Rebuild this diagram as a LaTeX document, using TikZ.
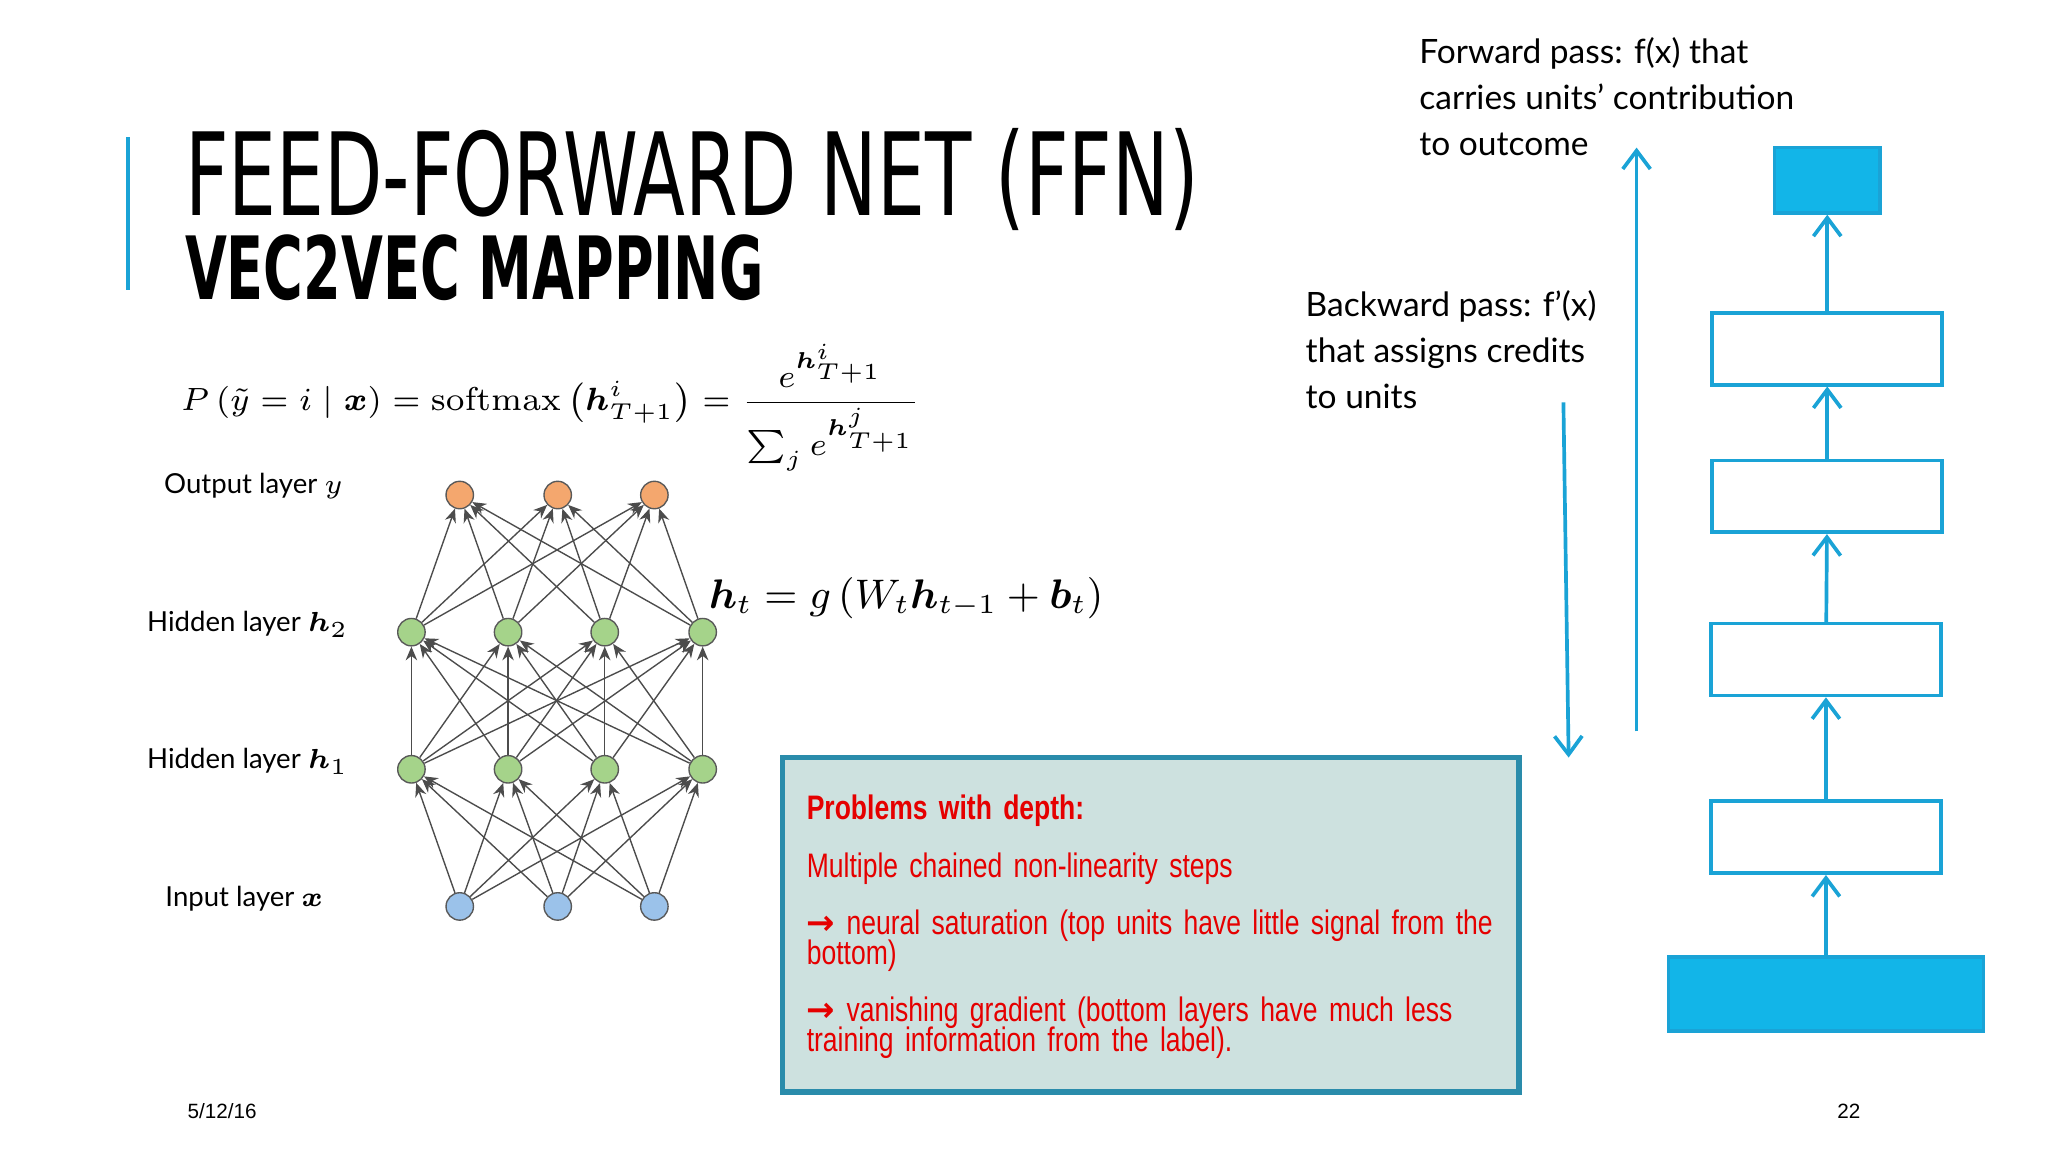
\documentclass[tikz,border=0pt]{standalone}
\usepackage{amsmath}
\usepackage{fontspec}
\setmainfont{Lato}
\newfontfamily\titlefont[FakeStretch=0.66]{DejaVu Sans}
\newfontfamily\subfont[FakeStretch=0.62]{DejaVu Sans}
\newfontfamily\condfont[FakeStretch=0.78]{Liberation Sans}
\newfontfamily\footfont{Liberation Sans}
\newfontfamily\arrfont{DejaVu Sans}
\newfontfamily\lmr{Latin Modern Roman}
\usetikzlibrary{arrows.meta}
\definecolor{cy}{HTML}{12B5E8}
\definecolor{cyl}{HTML}{1AA3D6}
\definecolor{boxfill}{HTML}{CDE1DF}
\definecolor{boxline}{HTML}{2A8CAB}
\definecolor{orn}{HTML}{F4A76E}
\definecolor{grn}{HTML}{A5D38A}
\definecolor{blu}{HTML}{9BC2EA}
\begin{document}
\begin{tikzpicture}[x=0.01cm,y=-0.01cm,
  neuron/.style={circle,draw=gray!70!black,line width=0.3pt,minimum size=0.21cm,inner sep=0},
  edge/.style={gray!60!black,line width=0.3pt,-{Stealth[length=3pt,width=2.5pt]}},
  layerbox/.style={draw=cyl,line width=0.8pt,minimum width=1.76cm,minimum height=0.55cm,inner sep=0},
  filledbox/.style={layerbox,fill=cy},
  uparr/.style={cyl,line width=0.8pt,-{Straight Barb[length=4pt,width=6pt]}},
  lbl/.style={anchor=west,font=\fontsize{6}{7}\selectfont,inner sep=0},
  side/.style={anchor=north west,align=left,font=\fontsize{7.3}{10}\selectfont,inner sep=0},
  red/.style={text=red!90!black}]
\useasboundingbox (0,0) rectangle (1568,882);
\fill[white] (0,0) rectangle (1568,882);
% title
\draw[cyl,line width=1pt] (98,105) -- (98,222);
\node[anchor=base west,inner sep=0,font=\titlefont\fontsize{25}{25}\selectfont] (t1) at (141,165) {FEED-FORWARD NET (FFN)};
\node[anchor=base west,inner sep=0,font=\subfont\bfseries\fontsize{19}{19}\selectfont] (t2) at (141,229) {VEC2VEC MAPPING};
% formula
\node[anchor=west,inner sep=0,font=\fontsize{7.2}{8}\selectfont] (f1) at (138,312)
 {$P\left(\tilde y = i \mid \boldsymbol{x}\right) = \text{\lmr softmax}\left(\boldsymbol{h}^{i}_{T+1}\right) = \dfrac{e^{\boldsymbol{h}^{i}_{T+1}}}{\sum_j e^{\boldsymbol{h}^{j}_{T+1}}}$};
% network
\foreach \n/\x in {1/352,2/427,3/501}{
  \node[neuron,fill=orn] (o\n) at (\x,379) {};
  \node[neuron,fill=blu] (i\n) at (\x,694) {};}
\foreach \n/\x in {1/315,2/389,3/463,4/538}{
  \node[neuron,fill=grn] (a\n) at (\x,484) {};
  \node[neuron,fill=grn] (b\n) at (\x,589) {};}
\foreach \p in {1,2,3}{\foreach \q in {1,2,3,4}{
  \draw[edge] (i\p) -- (b\q);
  \draw[edge] (a\q) -- (o\p);}}
\foreach \p in {1,2,3,4}{\foreach \q in {1,2,3,4}{
  \draw[edge] (b\p) -- (a\q);}}
\node[lbl] (lo) at (125,372) {Output layer $y$};
\node[lbl] (la) at (112,478) {Hidden layer $\boldsymbol{h}_2$};
\node[lbl] (lb) at (112,583) {Hidden layer $\boldsymbol{h}_1$};
\node[lbl] (li) at (126,688) {Input layer $\boldsymbol{x}$};
\node[anchor=west,inner sep=0,font=\fontsize{9}{10}\selectfont] (ht) at (542,458)
 {$\boldsymbol{h}_t = g\left(W_t\boldsymbol{h}_{t-1} + \boldsymbol{b}_t\right)$};
% red box
\draw[boxline,fill=boxfill,line width=1.2pt] (599,580) rectangle (1163,836);
\node[anchor=north west,inner sep=0,text width=5.35cm,align=left,red,font=\condfont\fontsize{7.4}{6.5}\selectfont] (pb) at (617,608)
 {\baselineskip=6.5pt\lineskiplimit=-10pt
  {\bfseries Problems with depth:}\\[6pt]
  Multiple chained non-linearity steps\\[6pt]
  {\arrfont\bfseries →} neural saturation (top units have little signal from the bottom)\\[6pt]
  {\arrfont\bfseries →} vanishing gradient (bottom layers have much less training information from the label).\par};
% right side
\node[side] (fw) at (1086,28) {Forward pass: f(x) that\\carries units' contribution\\to outcome};
\node[side] (bw) at (999,222) {Backward pass: f'(x)\\that assigns credits\\to units};
\coordinate (ua) at (1253,560); \coordinate (ub) at (1253,113);
\draw[uparr] (ua) -- (ub);
\coordinate (da) at (1197,308); \coordinate (db) at (1201,580);
\draw[uparr] (da) -- (db);
\node[filledbox,minimum width=0.81cm,minimum height=0.5cm] (r0) at (1399,138) {};
\node[layerbox] (r1) at (1399,267) {};
\node[layerbox] (r2) at (1399,380) {};
\node[layerbox] (r3) at (1398,505) {};
\node[layerbox] (r4) at (1398,641) {};
\node[filledbox,minimum width=2.41cm,minimum height=0.57cm] (r5) at (1398,761) {};
\draw[uparr] (r5) -- (r4);
\draw[uparr] (r4) -- (r3);
\draw[uparr] (r3) -- (r2);
\draw[uparr] (r2) -- (r1);
\draw[uparr] (r1) -- (r0);
% footer
\node[anchor=west,inner sep=0,font=\footfont\fontsize{4.5}{5}\selectfont] (d) at (143,851) {5/12/16};
\node[anchor=west,inner sep=0,font=\footfont\fontsize{4.5}{5}\selectfont] (pg) at (1406,851) {22};
\end{tikzpicture}
\end{document}
